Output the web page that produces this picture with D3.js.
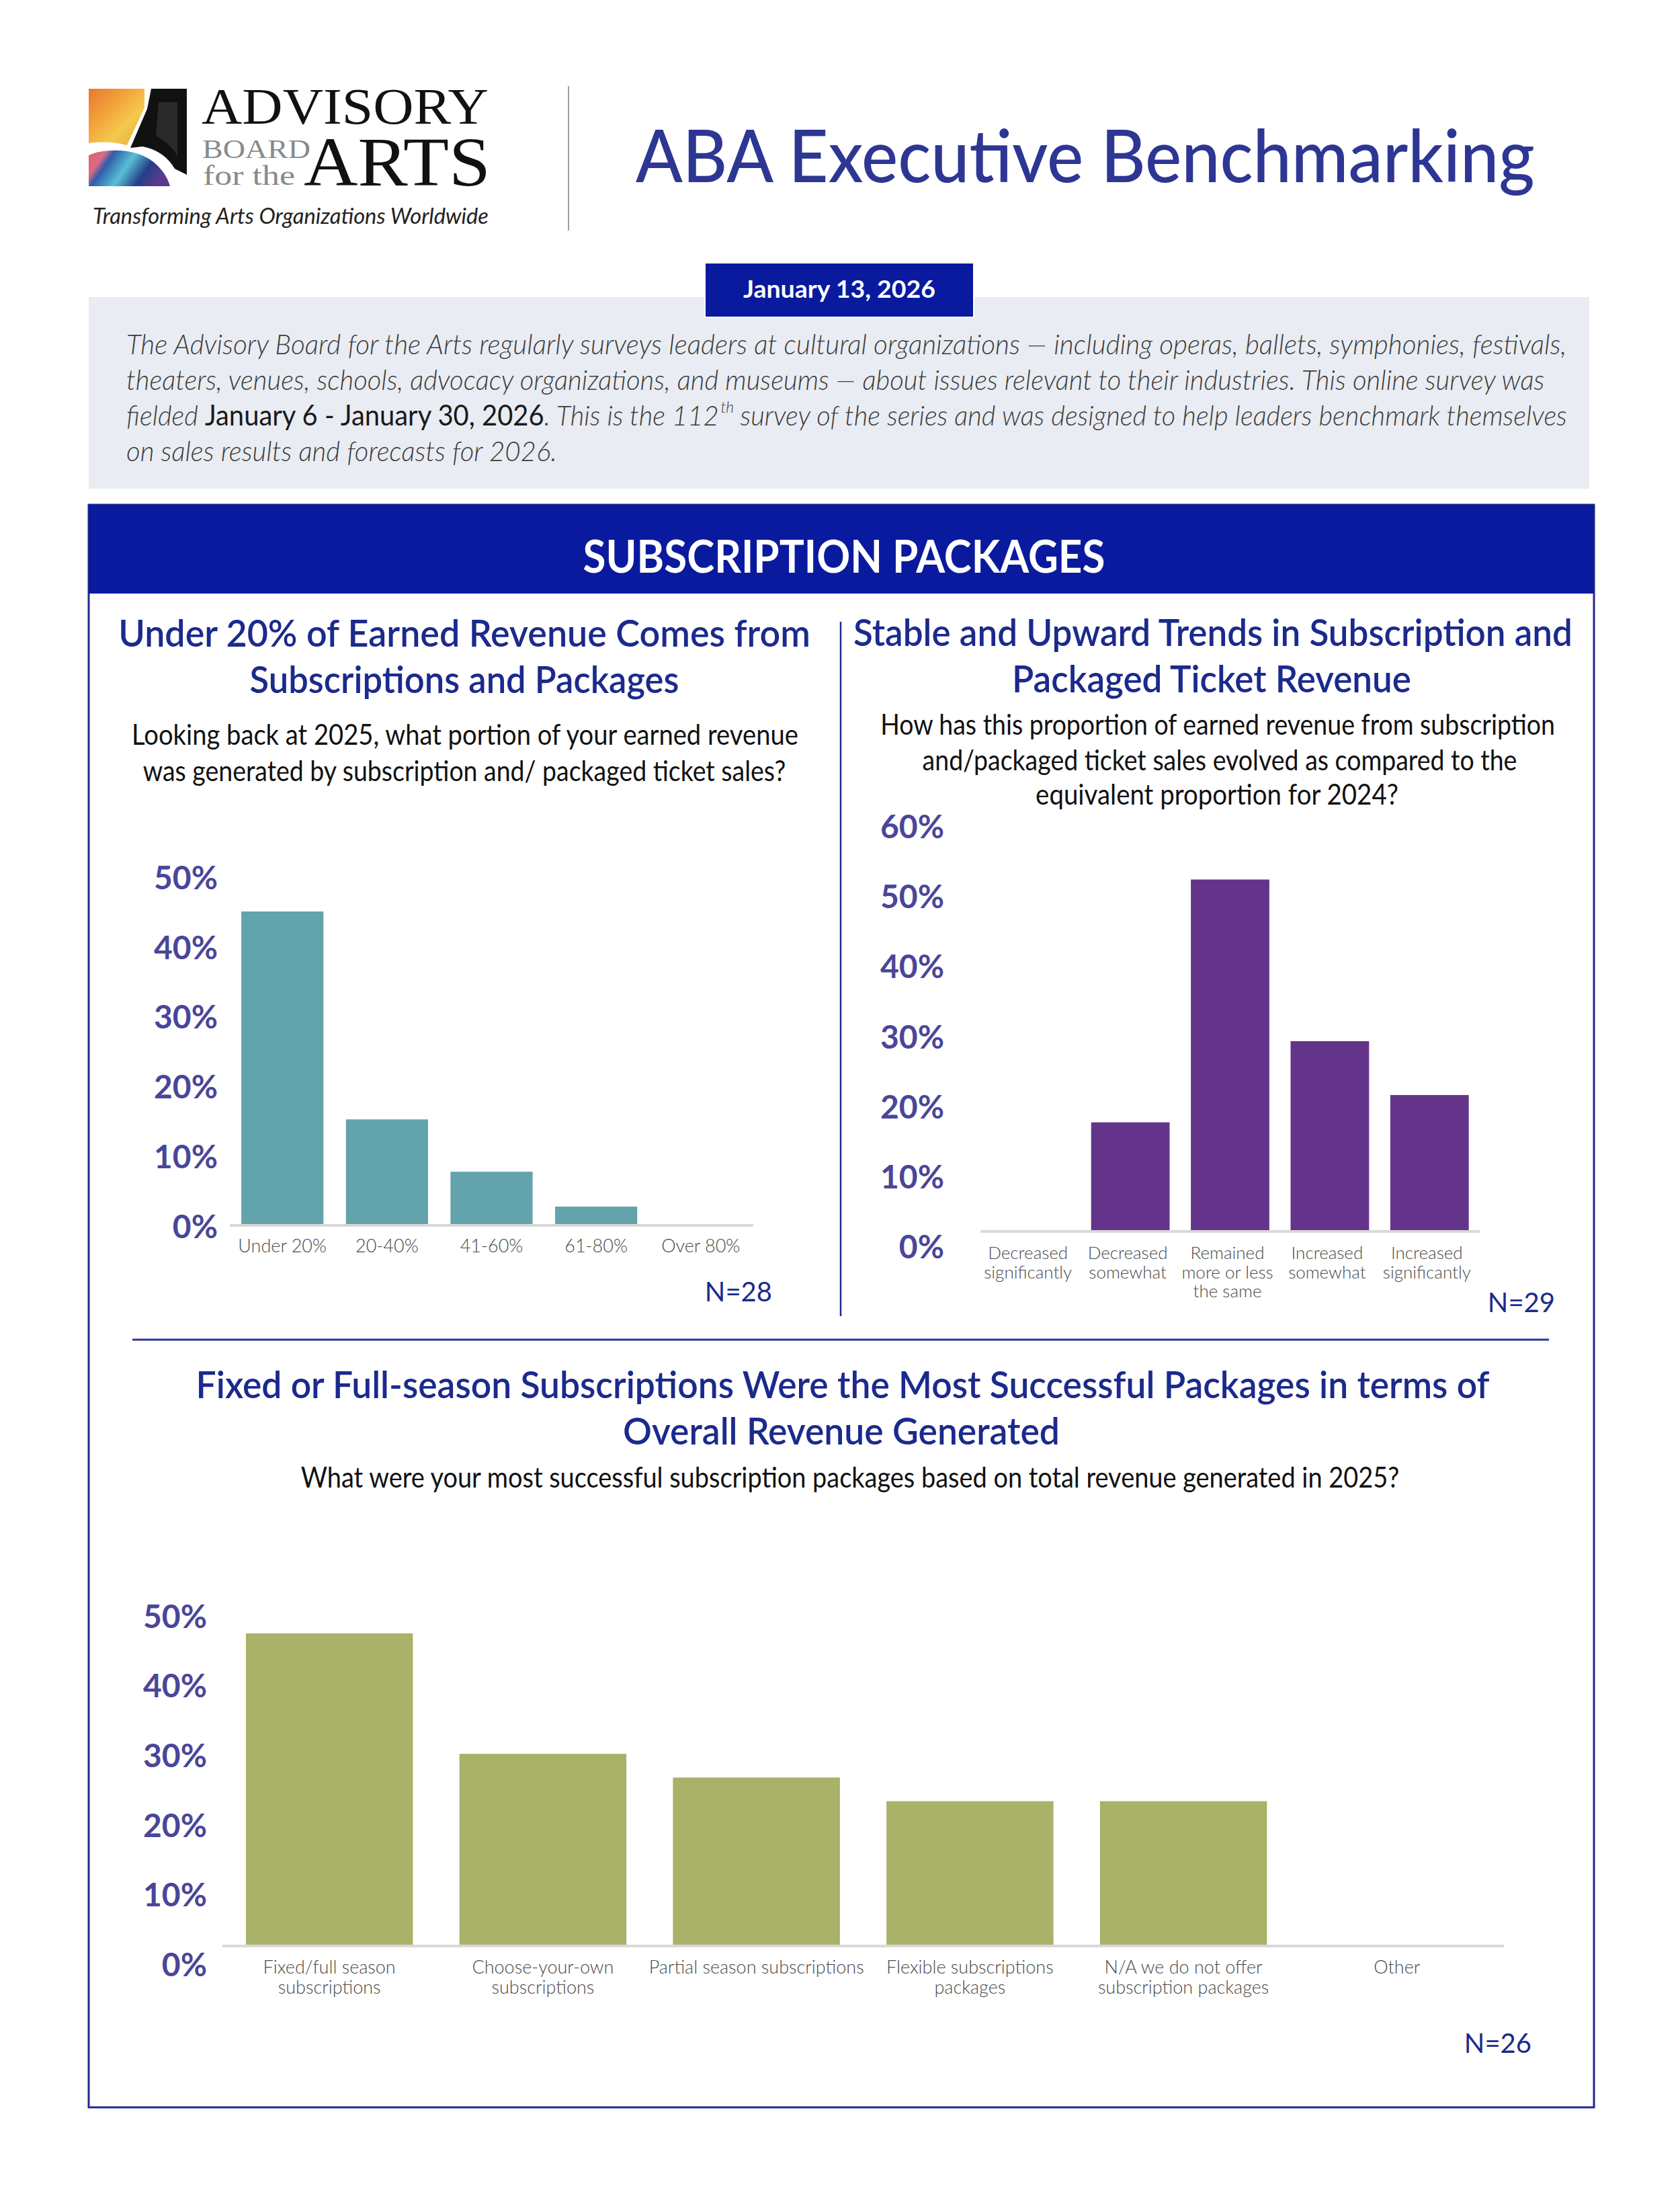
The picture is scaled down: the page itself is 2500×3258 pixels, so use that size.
<!DOCTYPE html>
<html><head><meta charset="utf-8">
<script src="https://cdn.jsdelivr.net/npm/d3@7"></script>
<style>body{margin:0;background:#fff}svg{display:block}</style>
</head><body>
<svg id="page" width="2500" height="3258"></svg>
<script>
// ---------------- DATA ----------------
const chart1Categories = ["Under 20%", "20-40%", "41-60%", "61-80%", "Over 80%"];
const chart1Values = [0.448, 0.15, 0.075, 0.025, 0];
const chart1Ticks = [0, 0.1, 0.2, 0.3, 0.4, 0.5];

const chart2Categories = ["Decreased significantly", "Decreased somewhat", "Remained more or less the same", "Increased somewhat", "Increased significantly"];
const chart2LabelLines = [["Decreased", "significantly"], ["Decreased", "somewhat"], ["Remained", "more or less", "the same"], ["Increased", "somewhat"], ["Increased", "significantly"]];
const chart2Values = [0, 0.154, 0.501, 0.27, 0.193];
const chart2Ticks = [0, 0.1, 0.2, 0.3, 0.4, 0.5, 0.6];

const chart3Categories = ["Fixed/full season subscriptions", "Choose-your-own subscriptions", "Partial season subscriptions", "Flexible subscriptions packages", "N/A we do not offer subscription packages", "Other"];
const chart3LabelLines = [["Fixed/full season", "subscriptions"], ["Choose-your-own", "subscriptions"], ["Partial season subscriptions"], ["Flexible subscriptions", "packages"], ["N/A we do not offer", "subscription packages"], ["Other"]];
const chart3Values = [0.447, 0.274, 0.24, 0.206, 0.206, 0];
const chart3Ticks = [0, 0.1, 0.2, 0.3, 0.4, 0.5];

const sampleSizes = ["N=28", "N=29", "N=26"];

// ---------------- HELPERS ----------------
const svg = d3.select("#page");
const NAVY = "#1B2A8C";
const BAND = "#0A1A9E";

// Text helper: when a target width is given, the text is compressed/stretched
// horizontally with a transform (keeps measured boxes consistent).
function addText(g, o) {
  const t = g.append("text")
    .attr("font-family", o.family || "Lato")
    .attr("font-size", o.size)
    .attr("font-weight", o.weight || 400)
    .attr("font-style", o.style || "normal")
    .attr("fill", o.fill || "#000")
    .attr("text-anchor", o.anchor || "start")
    .text(o.text);
  if (o.width) {
    t.attr("x", 0).attr("y", 0);
    const w = t.node().getComputedTextLength();
    const sx = w > 0 ? o.width / w : 1;
    t.attr("transform", `translate(${o.x},${o.y}) scale(${sx},1)`);
  } else {
    t.attr("x", o.x).attr("y", o.y);
  }
  return t;
}

// ---------------- HEADER / LOGO ----------------
const defs = svg.append("defs");
const warm = defs.append("linearGradient").attr("id", "warm").attr("x1", 0).attr("y1", 0).attr("x2", 1).attr("y2", 1);
[["0", "#E9772F"], ["0.35", "#F2A23A"], ["0.65", "#F4C84C"], ["1", "#E2AE3D"]].forEach(s => warm.append("stop").attr("offset", s[0]).attr("stop-color", s[1]));
const cool = defs.append("linearGradient").attr("id", "cool").attr("x1", 0).attr("y1", 0).attr("x2", 1).attr("y2", 0.3);
[["0", "#E4606A"], ["0.2", "#D86A84"], ["0.3", "#2F5DAA"], ["0.55", "#59BFD6"], ["0.8", "#233F88"], ["1", "#5A3A8C"]].forEach(s => cool.append("stop").attr("offset", s[0]).attr("stop-color", s[1]));

const logo = svg.append("g").attr("transform", "translate(132,132)");
logo.append("path").attr("d", "M0,0 H83 V28 L57,84 Q30,77 0,81 Z").attr("fill", "url(#warm)");
logo.append("path").attr("d", "M0,99 Q12,93 32,92 Q76,90 101,113 Q116,127 121,145 H0 Z").attr("fill", "url(#cool)");
logo.append("path").attr("d", "M93,0 H146 V128 L128,119 Q112,92 80,86 L62,88 L87,30 Z").attr("fill", "#111");
logo.append("path").attr("d", "M104,20 L132,20 L132,100 Q120,80 100,70 Z").attr("fill", "#2a2a2a");

addText(svg, {x: 300, y: 184, text: "ADVISORY", size: 76, family: "Liberation Serif", fill: "#111", width: 427});
addText(svg, {x: 301, y: 235, text: "BOARD", size: 40, family: "Liberation Serif", fill: "#8a8a8a", width: 161});
addText(svg, {x: 302, y: 275, text: "for the", size: 42, family: "Liberation Serif", fill: "#8a8a8a", width: 137});
addText(svg, {x: 452, y: 276, text: "ARTS", size: 104, family: "Liberation Serif", fill: "#111", width: 278});
addText(svg, {x: 138, y: 333, text: "Transforming Arts Organizations Worldwide", size: 33, style: "italic", fill: "#222", width: 589});

svg.append("line").attr("x1", 846).attr("x2", 846).attr("y1", 128).attr("y2", 343).attr("stroke", "#a0a0a0").attr("stroke-width", 2);

addText(svg, {x: 946, y: 271, text: "ABA Executive Benchmarking", size: 109, weight: 500, fill: "#2E3694", width: 1338});

// grey intro box
svg.append("rect").attr("x", 132).attr("y", 442).attr("width", 2233).attr("height", 285).attr("fill", "#E9ECF2");
svg.append("rect").attr("x", 1049).attr("y", 391).attr("width", 400).attr("height", 81).attr("fill", BAND).attr("stroke", "#fff").attr("stroke-width", 2);
addText(svg, {x: 1249, y: 443, text: "January 13, 2026", size: 37, weight: 700, fill: "#fff", anchor: "middle", width: 286});

const pFill = "#3c3c3c";
addText(svg, {x: 188, y: 527, text: "The Advisory Board for the Arts regularly surveys leaders at cultural organizations \u2014 including operas, ballets, symphonies, festivals,", size: 42, weight: 300, style: "italic", fill: pFill, width: 2144});
addText(svg, {x: 188, y: 580, text: "theaters, venues, schools, advocacy organizations, and museums \u2014 about issues relevant to their industries. This online survey was", size: 42, weight: 300, style: "italic", fill: pFill, width: 2111});

// line 3: three runs inside one horizontally scaled group, superscript in its own gap
const g3 = svg.append("g");
const a3 = g3.append("text").attr("x", 0).attr("y", 0).attr("font-family", "Lato").attr("font-size", 42).attr("fill", pFill);
a3.append("tspan").attr("font-style", "italic").attr("font-weight", 300).text("fielded ");
a3.append("tspan").attr("font-weight", 400).attr("fill", "#1a1a1a").text("January 6 - January 30, 2026");
a3.append("tspan").attr("font-style", "italic").attr("font-weight", 300).text(". This is the 112");
const wA = a3.node().getComputedTextLength();
const th = g3.append("text").attr("x", wA + 3).attr("y", -19).attr("font-family", "Lato").attr("font-size", 24)
  .attr("font-style", "italic").attr("font-weight", 300).attr("fill", pFill).text("th");
const wT = th.node().getComputedTextLength();
const b3 = g3.append("text").attr("x", wA + 3 + wT + 10).attr("y", 0).attr("font-family", "Lato").attr("font-size", 42)
  .attr("font-style", "italic").attr("font-weight", 300).attr("fill", pFill)
  .text("survey of the series and was designed to help leaders benchmark themselves");
const wB = b3.node().getComputedTextLength();
g3.attr("transform", `translate(188,633) scale(${2144 / (wA + 3 + wT + 10 + wB)},1)`);

addText(svg, {x: 188, y: 686, text: "on sales results and forecasts for 2026.", size: 42, weight: 300, style: "italic", fill: pFill, width: 641});

// ---------------- MAIN BOX ----------------
svg.append("rect").attr("x", 132).attr("y", 751).attr("width", 2240).attr("height", 2384).attr("fill", "none").attr("stroke", "#23288C").attr("stroke-width", 3);
svg.append("rect").attr("x", 132).attr("y", 751).attr("width", 2240).attr("height", 132).attr("fill", BAND);
addText(svg, {x: 1256, y: 852, text: "SUBSCRIPTION PACKAGES", size: 66, weight: 700, fill: "#fff", anchor: "middle", width: 777});

svg.append("line").attr("x1", 1251).attr("x2", 1251).attr("y1", 925).attr("y2", 1958).attr("stroke", "#23288C").attr("stroke-width", 2.5);
svg.append("line").attr("x1", 197).attr("x2", 2305).attr("y1", 1993).attr("y2", 1993).attr("stroke", "#2D3590").attr("stroke-width", 3);

// titles
addText(svg, {x: 691, y: 962, text: "Under 20% of Earned Revenue Comes from", size: 55, weight: 600, fill: NAVY, anchor: "middle", width: 1030});
addText(svg, {x: 691, y: 1031, text: "Subscriptions and Packages", size: 55, weight: 600, fill: NAVY, anchor: "middle", width: 639});
addText(svg, {x: 692, y: 1108, text: "Looking back at 2025, what portion of your earned revenue", size: 42, fill: "#111", anchor: "middle", width: 992});
addText(svg, {x: 691, y: 1162, text: "was generated by subscription and/ packaged ticket sales?", size: 42, fill: "#111", anchor: "middle", width: 957});

addText(svg, {x: 1805, y: 961, text: "Stable and Upward Trends in Subscription and", size: 55, weight: 600, fill: NAVY, anchor: "middle", width: 1070});
addText(svg, {x: 1803, y: 1030, text: "Packaged Ticket Revenue", size: 55, weight: 600, fill: NAVY, anchor: "middle", width: 594});
addText(svg, {x: 1812, y: 1093, text: "How has this proportion of earned revenue from subscription", size: 42, fill: "#111", anchor: "middle", width: 1004});
addText(svg, {x: 1815, y: 1146, text: "and/packaged ticket sales evolved as compared to the", size: 42, fill: "#111", anchor: "middle", width: 885});
addText(svg, {x: 1811, y: 1197, text: "equivalent proportion for 2024?", size: 42, fill: "#111", anchor: "middle", width: 540});

addText(svg, {x: 1254, y: 2080, text: "Fixed or Full-season Subscriptions Were the Most Successful Packages in terms of", size: 55, weight: 600, fill: NAVY, anchor: "middle", width: 1925});
addText(svg, {x: 1252, y: 2149, text: "Overall Revenue Generated", size: 55, weight: 600, fill: NAVY, anchor: "middle", width: 650});
addText(svg, {x: 1265, y: 2213, text: "What were your most successful subscription packages based on total revenue generated in 2025?", size: 42, fill: "#111", anchor: "middle", width: 1635});

// ---------------- BAR CHARTS ----------------
function barChart(o) {
  const g = svg.append("g");
  const maxV = d3.max(o.ticks);
  const y = d3.scaleLinear().domain([0, maxV]).range([o.axisY, o.axisY - o.px10 * maxV * 10]);
  const x = d3.scaleBand().domain(o.cats).range([o.x0, o.x1]).paddingInner(o.pi).paddingOuter(0.11);
  const data = o.cats.map((c, i) => ({c, v: o.values[i], lines: o.lines[i]}));
  g.selectAll("rect.bar").data(data).join("rect").attr("class", "bar")
    .attr("x", d => x(d.c)).attr("y", d => y(d.v))
    .attr("width", x.bandwidth()).attr("height", d => y(0) - y(d.v))
    .attr("fill", o.color);
  g.append("line").attr("x1", o.x0).attr("x2", o.x1).attr("y1", o.axisY + 2).attr("y2", o.axisY + 2)
    .attr("stroke", "#D9D9D9").attr("stroke-width", 4);
  const ax = d3.axisLeft(y).tickValues(o.ticks).tickFormat(d3.format(".0%")).tickSize(0).tickPadding(0);
  const ag = g.append("g").attr("transform", `translate(${o.labelRight},${o.shift})`).call(ax);
  ag.select(".domain").remove();
  ag.selectAll("text").attr("font-family", "Lato").attr("font-weight", 700).attr("font-size", 48).attr("fill", "#4A4699");
  const lab = g.selectAll("text.xl").data(data).join("text").attr("class", "xl")
    .attr("x", d => x(d.c) + x.bandwidth() / 2 + (o.labelDx || 0)).attr("y", o.labelY)
    .attr("text-anchor", "middle").attr("font-family", "Lato").attr("font-weight", 300)
    .attr("font-size", o.labelSize).attr("fill", "#4a4a4a");
  lab.each(function(d) {
    const t = d3.select(this);
    d.lines.forEach((ln, i) => {
      t.append("tspan").attr("x", x(d.c) + x.bandwidth() / 2 + (o.labelDx || 0)).attr("dy", i === 0 ? 0 : o.lineH).text(ln);
    });
  });
  addText(g, {x: o.nX, y: o.nY, text: o.n, size: 40, fill: NAVY, anchor: "end"});
}

barChart({cats: chart1Categories, lines: chart1Categories.map(c => [c]), values: chart1Values, ticks: chart1Ticks,
  x0: 342, x1: 1121, pi: 0.215, axisY: 1821, px10: 103.8, labelRight: 324, shift: 5, color: "#62A3AC",
  labelY: 1863, labelSize: 27, lineH: 28, n: sampleSizes[0], nX: 1149, nY: 1936});

barChart({cats: chart2Categories, lines: chart2LabelLines, values: chart2Values, ticks: chart2Ticks,
  x0: 1459, x1: 2202, pi: 0.213, axisY: 1830, px10: 104.1, labelRight: 1405, shift: 26, color: "#63348A",
  labelY: 1873, labelSize: 26, lineH: 28.5, labelDx: -4, n: sampleSizes[1], nX: 2314, nY: 1952});

barChart({cats: chart3Categories, lines: chart3LabelLines, values: chart3Values, ticks: chart3Ticks,
  x0: 331, x1: 2238, pi: 0.218, axisY: 2893, px10: 103.6, labelRight: 308, shift: 31, color: "#AAB168",
  labelY: 2936, labelSize: 27, lineH: 30, n: sampleSizes[2], nX: 2279, nY: 3054});
</script>
</body></html>
